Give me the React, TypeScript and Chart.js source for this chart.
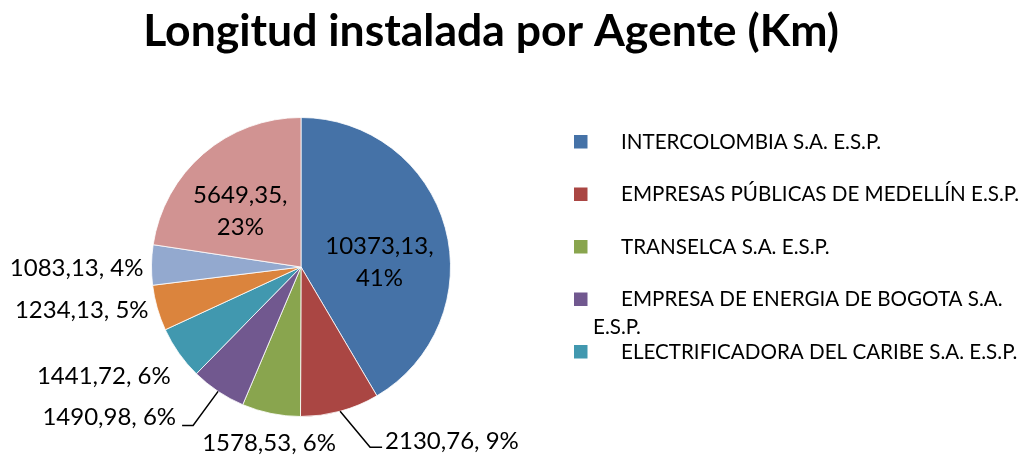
import React, { useEffect, useRef } from "react";
import { Chart, registerables } from "chart.js";

Chart.register(...registerables);

// ---------- data ----------
const titleText = "Longitud instalada por Agente (Km)";
const categories = [
  "INTERCOLOMBIA S.A. E.S.P.",
  "EMPRESAS PÚBLICAS DE MEDELLÍN E.S.P.",
  "TRANSELCA S.A. E.S.P.",
  "EMPRESA DE ENERGIA DE BOGOTA S.A. E.S.P.",
  "ELECTRIFICADORA DEL CARIBE S.A. E.S.P.",
  "AGENTE 6",
  "AGENTE 7",
  "OTROS",
];
const values = [10373.13, 2130.76, 1578.53, 1490.98, 1441.72, 1234.13, 1083.13, 5649.35];
// percentages as printed on the chart
const percents = [41, 9, 6, 6, 6, 5, 4, 23];
const colors = ["#4572A7", "#AA4643", "#89A54E", "#71588F", "#4198AF", "#DB843D", "#93A9CF", "#D19392"];

// ---------- label styling (placement hints, not data) ----------
type Layout =
  | { mode: "in"; dist: number; dx: number; dy: number }
  | { mode: "out"; align: CanvasTextAlign; dx: number; dy: number }
  | { mode: "leader"; ex: number; ey: number; hx: number; tx: number; ty: number };

const labelLayout: Layout[] = [
  { mode: "in", dist: 0.53, dx: 2, dy: 15 },
  { mode: "leader", ex: 30, ey: 36, hx: 12, tx: 3, ty: -7 },
  { mode: "out", align: "center", dx: 0, dy: 19 },
  { mode: "leader", ex: -25, ey: 34, hx: -11, tx: -6, ty: -9 },
  { mode: "out", align: "right", dx: 0, dy: 17 },
  { mode: "out", align: "right", dx: 1, dy: -1 },
  { mode: "out", align: "right", dx: 2, dy: 3 },
  { mode: "in", dist: 0.53, dx: -9, dy: 4 },
];

const FONT = "Lato, 'Open Sans', sans-serif";
const LABEL_SIZE = 24;
const LEGEND_SIZE = 20.6;
const TITLE_SIZE = 44.5;

const fmt = (v: number) => v.toFixed(2).replace(".", ",");

const overlayPlugin = {
  id: "overlay",
  afterDraw(chart: any) {
    const ctx: CanvasRenderingContext2D = chart.ctx;
    const meta = chart.getDatasetMeta(0);
    ctx.save();

    // title
    ctx.fillStyle = "#000";
    ctx.font = `bold ${TITLE_SIZE}px ${FONT}`;
    ctx.textAlign = "center";
    ctx.textBaseline = "alphabetic";
    ctx.fillText(titleText, 491, 46);

    // data labels
    ctx.font = `${LABEL_SIZE}px ${FONT}`;
    const capH = LABEL_SIZE * 0.7;
    meta.data.forEach((arc: any, i: number) => {
      const v = values[i];
      const pct = percents[i];
      const mid = (arc.startAngle + arc.endAngle) / 2;
      const r = arc.outerRadius;
      const L = labelLayout[i];
      ctx.fillStyle = "#000";
      if (L.mode === "in") {
        const cx = arc.x + Math.cos(mid) * r * L.dist + L.dx;
        const cy = arc.y + Math.sin(mid) * r * L.dist + L.dy;
        ctx.textAlign = "center";
        const gap = 32;
        ctx.fillText(`${fmt(v)},`, cx, cy - gap / 2 + capH / 2);
        ctx.fillText(`${pct}%`, cx, cy + gap / 2 + capH / 2);
      } else if (L.mode === "out") {
        const ax = arc.x + Math.cos(mid) * (r + 10) + L.dx;
        const ay = arc.y + Math.sin(mid) * (r + 10) + L.dy;
        ctx.textAlign = L.align;
        ctx.fillText(`${fmt(v)}, ${pct}%`, ax, ay + capH / 2);
      } else {
        const sx = arc.x + Math.cos(mid) * r;
        const sy = arc.y + Math.sin(mid) * r;
        const exx = sx + L.ex;
        const eyy = sy + L.ey;
        const hx = exx + L.hx;
        ctx.strokeStyle = "#000";
        ctx.lineWidth = 1.5;
        ctx.beginPath();
        ctx.moveTo(sx, sy);
        ctx.lineTo(exx, eyy);
        ctx.lineTo(hx, eyy);
        ctx.stroke();
        ctx.textAlign = L.hx >= 0 ? "left" : "right";
        ctx.fillText(`${fmt(v)}, ${pct}%`, hx + L.tx, eyy + L.ty + capH / 2);
      }
    });

    // legend (Excel-like, truncated when out of room)
    ctx.font = `${LEGEND_SIZE}px ${FONT}`;
    ctx.textAlign = "left";
    const lcapH = LEGEND_SIZE * 0.7;
    const markX = 574;
    const textX = 621;
    const wrapX = 593;
    const maxRight = 1030;
    const rowStep = 52.5;
    const lineStep = 28;
    const bottomLimit = 370;
    let y = 141.5;
    for (let i = 0; i < categories.length; i++) {
      const words = categories[i].split(" ");
      const lines: string[] = [];
      let cur = "";
      let limit = maxRight - textX;
      for (const w of words) {
        const test = cur ? cur + " " + w : w;
        if (ctx.measureText(test).width > limit && cur) {
          lines.push(cur);
          cur = w;
          limit = maxRight - wrapX;
        } else cur = test;
      }
      lines.push(cur);
      if (y + lcapH / 2 > bottomLimit) break;
      ctx.fillStyle = colors[i];
      ctx.fillRect(markX, y - 6.5, 13.5, 13.5);
      ctx.fillStyle = "#000";
      lines.forEach((ln, k) => {
        ctx.fillText(ln, k === 0 ? textX : wrapX, y + k * lineStep + lcapH / 2);
      });
      y += rowStep;
    }
    ctx.restore();
  },
};

export default function App() {
  const ref = useRef<HTMLCanvasElement | null>(null);
  useEffect(() => {
    if (!ref.current) return;
    const chart = new Chart(ref.current, {
      type: "pie",
      data: {
        labels: categories,
        datasets: [
          {
            data: values,
            backgroundColor: colors,
            borderColor: "rgba(255,255,255,0.8)",
            borderWidth: 1,
          },
        ],
      },
      options: {
        responsive: false,
        animation: false,
        layout: { padding: { left: 151, right: 581, top: 117, bottom: 38 } },
        plugins: {
          legend: { display: false },
          title: { display: false },
          tooltip: { enabled: false },
        },
      },
      plugins: [overlayPlugin],
    });
    return () => chart.destroy();
  }, []);
  return (
    <div style={{ position: "fixed", left: 0, top: 0, width: 1032, height: 455, background: "#fff" }}>
      <canvas ref={ref} width={1032} height={455} style={{ width: 1032, height: 455 }} />
    </div>
  );
}
